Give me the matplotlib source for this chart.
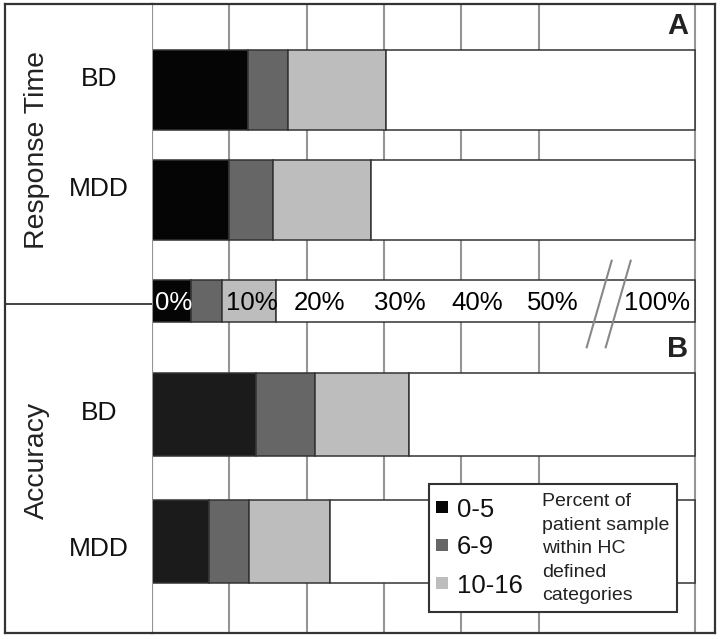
import numpy as np
import matplotlib
matplotlib.use('Agg')
import matplotlib.pyplot as plt
from matplotlib.patches import Rectangle
from matplotlib.lines import Line2D

plt.rcParams['font.family'] = ['Liberation Sans', 'DejaVu Sans']

# ---------------- data ----------------
measures = ['Response Time', 'Accuracy']
panel_letters = ['A', 'B']
groups = ['BD', 'MDD']
categories = ['0-5', '6-9', '10-16']
rt_0_5 = [12.4, 9.9]
rt_6_9 = [5.2, 5.8]
rt_10_16 = [12.6, 12.6]
acc_0_5 = [13.5, 7.4]
acc_6_9 = [7.6, 5.1]
acc_10_16 = [12.1, 10.5]
hc_band_widths = [5, 4, 7]
tick_values = [0, 10, 20, 30, 40, 50, 100]
tick_labels = ['0%', '10%', '20%', '30%', '40%', '50%', '100%']
legend_note = ['Percent of', 'patient sample', 'within HC', 'defined', 'categories']

# ---------------- style / layout ----------------
W, H = 720, 639
seg_colors = {'Response Time': ['#050505', '#666666', '#bdbdbd'],
              'Accuracy': ['#1b1b1b', '#666666', '#bdbdbd']}
band_colors = ['#050505', '#666666', '#bdbdbd']
legend_colors = ['#050505', '#666666', '#bdbdbd']
edge = '#333333'
grid_c = '#959595'
K = 0.4034  # compression of the axis beyond the break


def fwd(x):
    x = np.asarray(x, float)
    return np.where(x <= 50, x, 50 + (x - 50) * K)


def inv(y):
    y = np.asarray(y, float)
    return np.where(y <= 50, y, 50 + (y - 50) / K)


def fx(x):
    return x / W


def fy(y):
    return 1 - y / H


fig = plt.figure(figsize=(7.2, 6.39), dpi=100)

top_px, bot_px = 4.0, 633.3
ax = fig.add_axes([fx(152), fy(bot_px), (715 - 152) / W, (bot_px - top_px) / H])
ax.set_xscale('function', functions=(fwd, inv))
ax.set_xlim(0, float(inv(72.81)))
ax.set_ylim(bot_px, top_px)
ax.set_xticks(tick_values)
ax.tick_params(length=0, labelbottom=False, labelleft=False)
ax.set_yticks([])
ax.grid(axis='x', color=grid_c, lw=1.5)
ax.set_axisbelow(True)
for s in ['top', 'bottom', 'right']:
    ax.spines[s].set_color(edge)
    ax.spines[s].set_linewidth(1.6)
ax.spines['left'].set_color(grid_c)
ax.spines['left'].set_linewidth(1.5)

series = {'Response Time': [rt_0_5, rt_6_9, rt_10_16],
          'Accuracy': [acc_0_5, acc_6_9, acc_10_16]}
row_y = {'Response Time': [90.2, 199.7], 'Accuracy': [414.2, 541.2]}
row_h = {'Response Time': 80, 'Accuracy': 83}

for m in measures:
    for gi, g in enumerate(groups):
        y = row_y[m][gi]
        left = 0.0
        for ci, vals in enumerate(series[m]):
            ax.barh(y, vals[gi], left=left, height=row_h[m],
                    color=seg_colors[m][ci], edgecolor=edge, lw=1.1, zorder=2)
            left += vals[gi]
        ax.barh(y, 100 - left, left=left, height=row_h[m],
                color='white', edgecolor=edge, lw=1.1, zorder=2)

# reference scale bar
band_y, band_h = 300.6, 42
left = 0.0
for w, c in zip(hc_band_widths, band_colors):
    ax.barh(band_y, w, left=left, height=band_h, color=c, edgecolor=edge, lw=1.1, zorder=2)
    left += w
ax.barh(band_y, 100 - left, left=left, height=band_h, color='white',
        edgecolor=edge, lw=1.1, zorder=2)

label_dx = [3, 22, 13, 16, 16, 14, -38]
label_ha = ['left', 'center', 'center', 'center', 'center', 'center', 'center']
label_col = ['white', 'black', 'black', 'black', 'black', 'black', 'black']
for v, lab, dx, ha, c in zip(tick_values, tick_labels, label_dx, label_ha, label_col):
    ax.annotate(lab, xy=(v, band_y), xytext=(dx, -9.2), textcoords='offset pixels',
                ha=ha, va='baseline', fontsize=18.5, color=c, zorder=4)

# axis break marks
for (x0, y0, x1, y1) in [(611.7, 260.7, 586.7, 347.3), (630.7, 260.7, 605.7, 347.3)]:
    fig.add_artist(Line2D([fx(x0), fx(x1)], [fy(y0), fy(y1)], color='#888888',
                          lw=1.5, zorder=6))

# panel letters
for letter, yb in zip(panel_letters, [33.8, 357.0]):
    fig.text(fx(688), fy(yb), letter, ha='right', va='baseline',
             fontsize=21, fontweight='bold', color='#222222')

# left label panel
axl = fig.add_axes([fx(4.7), fy(bot_px), (152 - 4.7) / W, (bot_px - top_px) / H])
axl.set_xlim(4.7, 152)
axl.set_ylim(bot_px, top_px)
axl.set_xticks([])
axl.set_yticks([])
for s in ['top', 'bottom', 'left']:
    axl.spines[s].set_color(edge)
    axl.spines[s].set_linewidth(1.6)
axl.spines['right'].set_visible(False)
axl.axhline(303.5, color=edge, lw=1.3)

measure_center = {'Response Time': 150, 'Accuracy': 460}
group_base = {'Response Time': [85.5, 195.5], 'Accuracy': [419.5, 555.5]}
for m in measures:
    axl.text(37, measure_center[m], m, rotation=90, ha='center', va='center',
             fontsize=20.5, color='#222222')
    for gi, g in enumerate(groups):
        axl.text(99, group_base[m][gi], g, ha='center', va='baseline',
                 fontsize=19, color='#111111')

# legend box
fig.add_artist(Rectangle((fx(429), fy(612.3)), (677 - 429) / W, (612.3 - 484) / H,
                         transform=fig.transFigure, facecolor='white', edgecolor=edge,
                         lw=1.5, zorder=10))
for cat, c, yc, yb in zip(categories, legend_colors, [507, 545, 583], [516.7, 554, 592.7]):
    fig.add_artist(Rectangle((fx(436), fy(yc + 6)), 12 / W, 12 / H,
                             transform=fig.transFigure, facecolor=c, edgecolor='none',
                             zorder=11))
    fig.text(fx(457), fy(yb), cat, ha='left', va='baseline', fontsize=18.5,
             color='#111111', zorder=12)
for line, yb in zip(legend_note, [506, 530, 553, 577, 600]):
    fig.text(fx(541.7), fy(yb), line, ha='left', va='baseline', fontsize=14,
             color='#222222', zorder=12)

fig.savefig('out.png', dpi=100)
